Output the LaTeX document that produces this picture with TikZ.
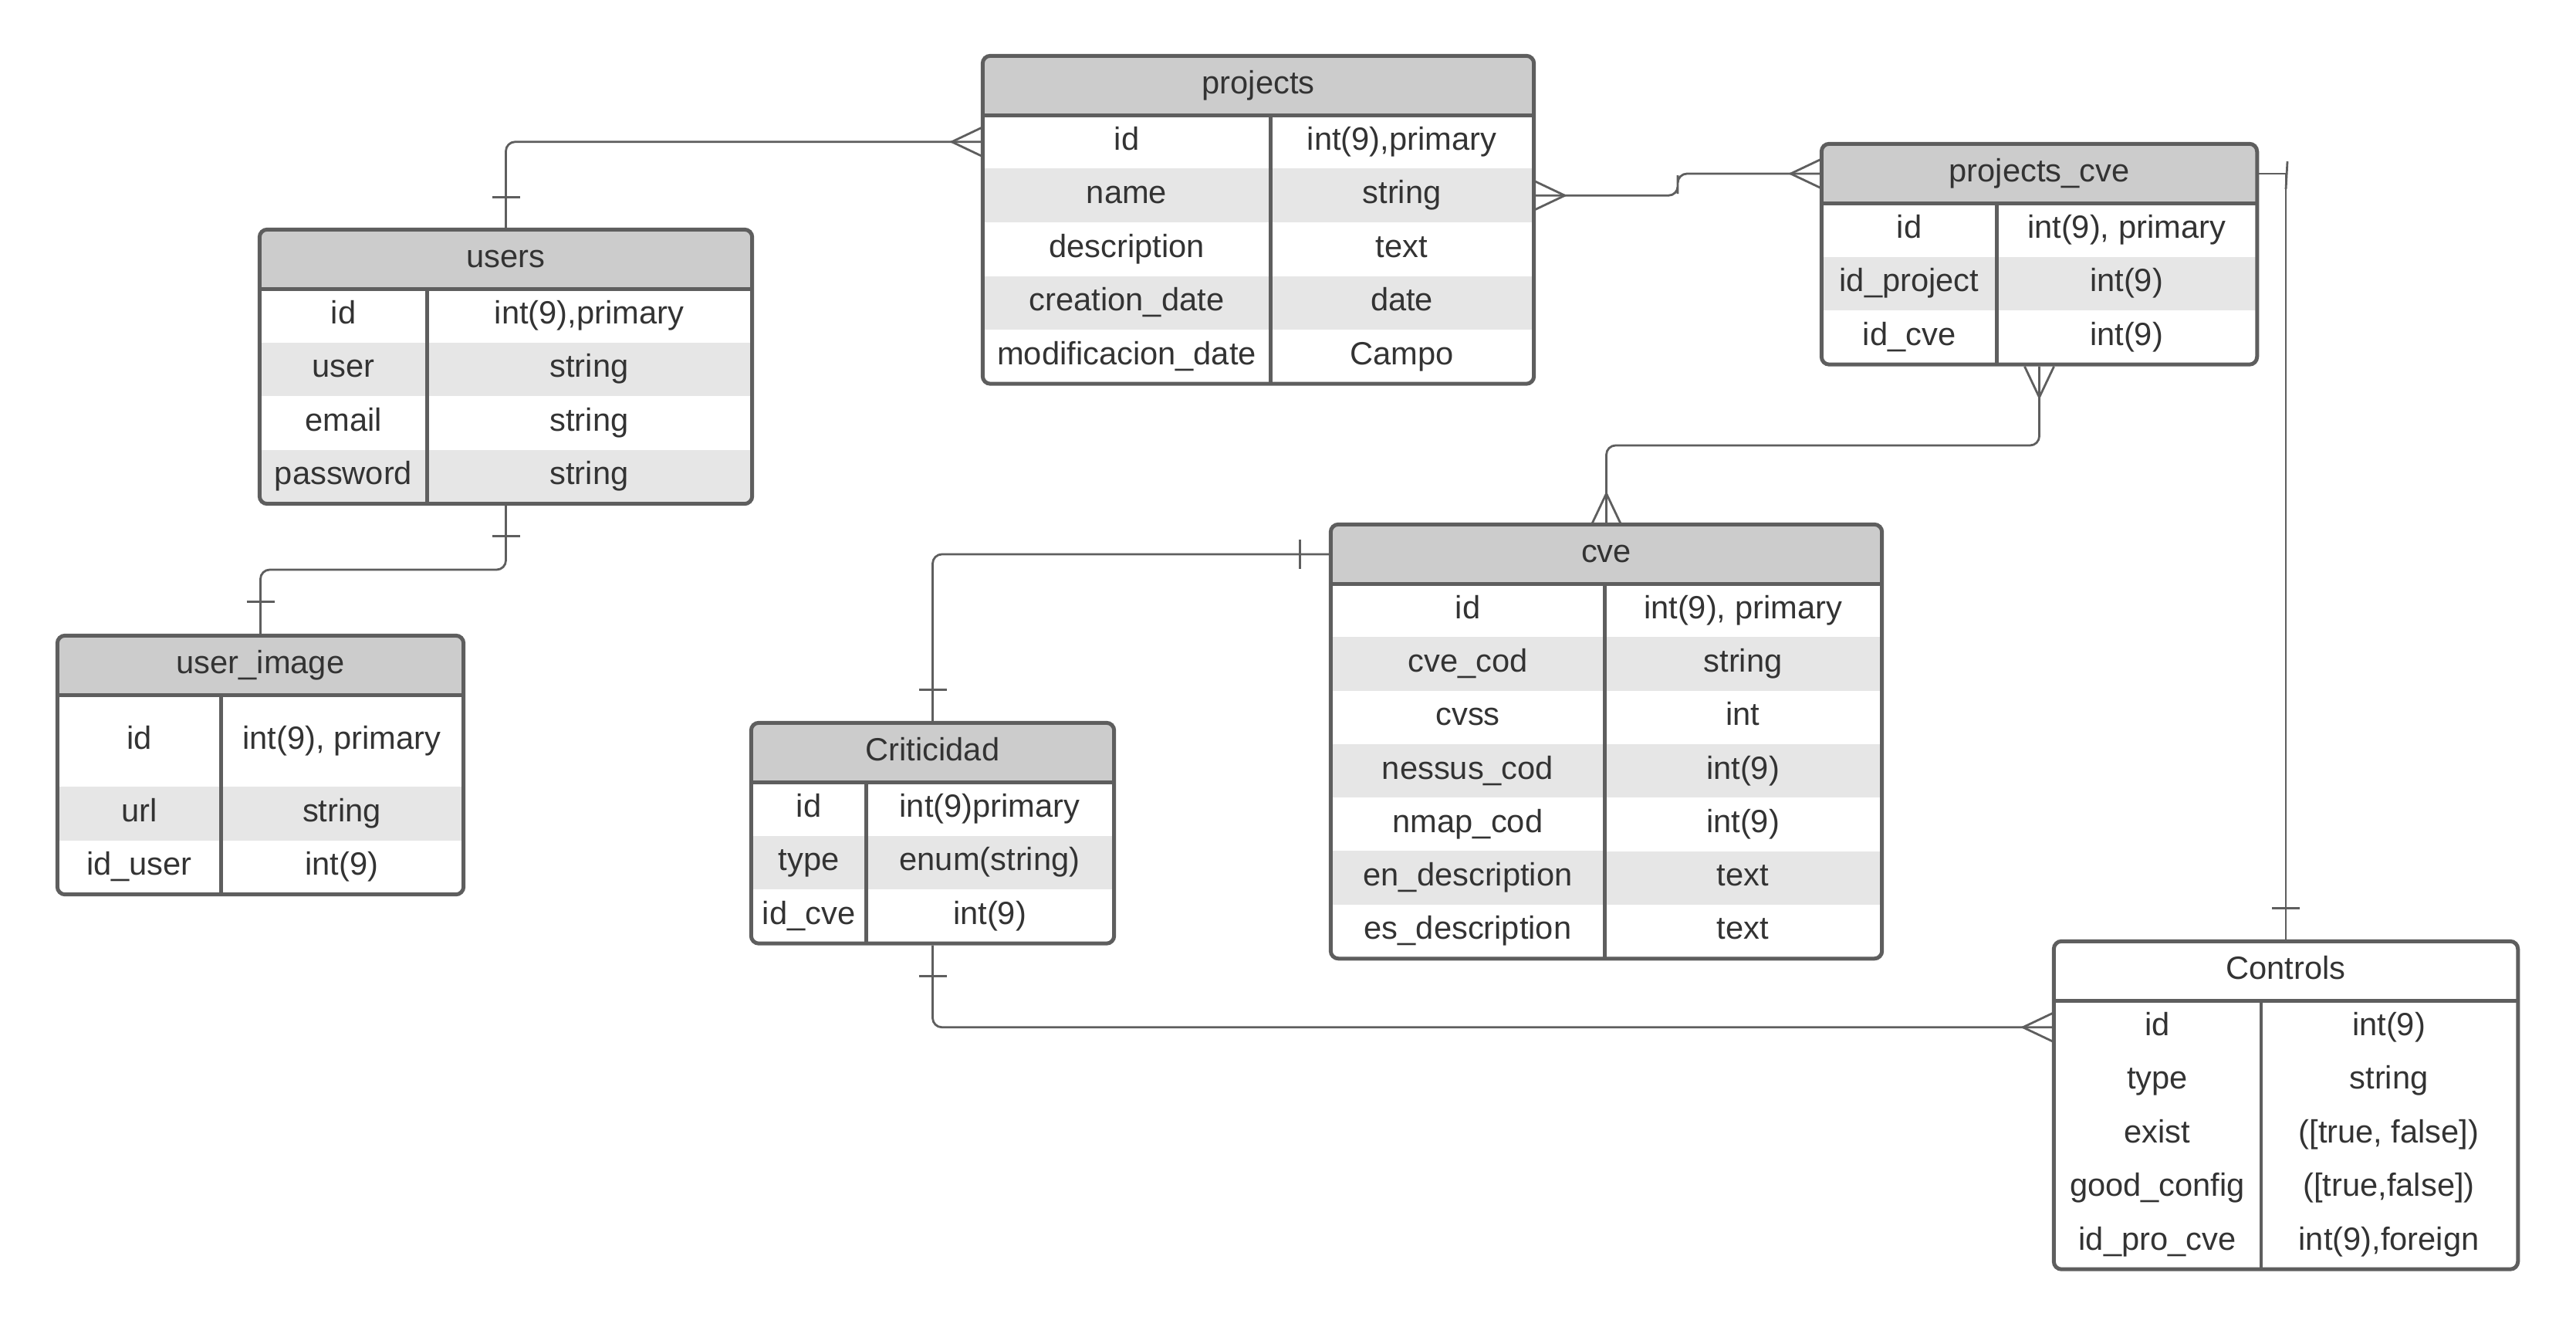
\documentclass[tikz,border=0pt]{standalone}
\usepackage{fontspec}
\setmainfont{Liberation Sans}
\usepackage{tikz}
\usetikzlibrary{calc,fit,positioning}

\definecolor{rahmen}{HTML}{5E5E5E}
\definecolor{kopfgrau}{HTML}{CCCCCC}
\definecolor{streifen}{HTML}{E6E6E6}
\definecolor{schrift}{HTML}{333333}

\tikzset{
    kopf/.style={rectangle, fill=kopfgrau, inner sep=0, minimum height=0.76cm, text height=0.3cm, text depth=0.09cm, text=schrift},
    zelle/.style={rectangle, inner sep=0, minimum height=0.695cm, text height=0.3cm, text depth=0.09cm, text=schrift},
    tabelle/.style={rectangle, draw=rahmen, line width=0.05cm, rounded corners=0.1cm, inner sep=0},
    trenn/.style={draw=rahmen, line width=0.045cm},
    linie/.style={draw=rahmen, line width=0.028cm},
    knick/.style={linie, rounded corners=0.12cm}
}

\begin{document}
\begin{tikzpicture}[font=\fontsize{11.85pt}{14pt}\selectfont]
        \useasboundingbox (0,0) rectangle (33.38,-17.18);
        % Tabelle - projects
        \node[kopf, minimum width=7.13cm] (p-h) at (16.305,-1.11) {projects};
        \foreach \i/\f/\a/\b in {1/white/id/{int(9),primary},2/streifen/name/string,3/white/description/text,4/streifen/creation\_date/date,5/white/modificacion\_date/Campo}{
            \node[zelle, fill=\f, minimum width=3.72cm] (p-a\i) at (14.6,{-1.49-0.695*\i+0.3475}) {\a};
            \node[zelle, fill=\f, minimum width=3.41cm] (p-b\i) at (18.165,{-1.49-0.695*\i+0.3475}) {\b};
        }
        \node[tabelle, fit=(p-h)(p-b5)] (projects) {};
        \draw[trenn] (p-h.south west) -- (p-h.south east);
        \draw[trenn] (p-a1.north east) -- (p-a5.south east);
        % Tabelle - users
        \node[kopf, minimum width=6.37cm] (u-h) at (6.555,-3.36) {users};
        \foreach \i/\f/\a/\b in {1/white/id/{int(9),primary},2/streifen/user/string,3/white/email/string,4/streifen/password/string}{
            \node[zelle, fill=\f, minimum width=2.16cm] (u-a\i) at (4.45,{-3.74-0.695*\i+0.3475}) {\a};
            \node[zelle, fill=\f, minimum width=4.21cm] (u-b\i) at (7.635,{-3.74-0.695*\i+0.3475}) {\b};
        }
        \node[tabelle, fit=(u-h)(u-b4)] (users) {};
        \draw[trenn] (u-h.south west) -- (u-h.south east);
        \draw[trenn] (u-a1.north east) -- (u-a4.south east);
        % Tabelle - projects_cve
        \node[kopf, minimum width=5.63cm] (pc-h) at (26.425,-2.25) {projects\_cve};
        \foreach \i/\f/\a/\b in {1/white/id/{int(9), primary},2/streifen/id\_project/int(9),3/white/id\_cve/int(9)}{
            \node[zelle, fill=\f, minimum width=2.26cm] (pc-a\i) at (24.74,{-2.63-0.695*\i+0.3475}) {\a};
            \node[zelle, fill=\f, minimum width=3.37cm] (pc-b\i) at (27.555,{-2.63-0.695*\i+0.3475}) {\b};
        }
        \node[tabelle, fit=(pc-h)(pc-b3)] (pcve) {};
        \draw[trenn] (pc-h.south west) -- (pc-h.south east);
        \draw[trenn] (pc-a1.north east) -- (pc-a3.south east);
        % Tabelle - user_image
        \node[kopf, minimum width=5.25cm] (ui-h) at (3.375,-8.62) {user\_image};
        \node[zelle, minimum width=2.11cm, minimum height=1.19cm] (ui-a1) at (1.805,-9.595) {id};
        \node[zelle, minimum width=3.14cm, minimum height=1.19cm] (ui-b1) at (4.43,-9.595) {int(9), primary};
        \node[zelle, fill=streifen, minimum width=2.11cm] (ui-a2) at (1.805,-10.5375) {url};
        \node[zelle, fill=streifen, minimum width=3.14cm] (ui-b2) at (4.43,-10.5375) {string};
        \node[zelle, minimum width=2.11cm] (ui-a3) at (1.805,-11.2325) {id\_user};
        \node[zelle, minimum width=3.14cm] (ui-b3) at (4.43,-11.2325) {int(9)};
        \node[tabelle, fit=(ui-h)(ui-b3)] (ui) {};
        \draw[trenn] (ui-h.south west) -- (ui-h.south east);
        \draw[trenn] (ui-a1.north east) -- (ui-a3.south east);
        % Tabelle - Criticidad
        \node[kopf, minimum width=4.69cm] (cr-h) at (12.085,-9.75) {Criticidad};
        \foreach \i/\f/\a/\b in {1/white/id/int(9)primary,2/streifen/type/enum(string),3/white/id\_cve/int(9)}{
            \node[zelle, fill=\f, minimum width=1.48cm] (cr-a\i) at (10.48,{-10.13-0.695*\i+0.3475}) {\a};
            \node[zelle, fill=\f, minimum width=3.21cm] (cr-b\i) at (12.825,{-10.13-0.695*\i+0.3475}) {\b};
        }
        \node[tabelle, fit=(cr-h)(cr-b3)] (cr) {};
        \draw[trenn] (cr-h.south west) -- (cr-h.south east);
        \draw[trenn] (cr-a1.north east) -- (cr-a3.south east);
        % Tabelle - cve
        \node[kopf, minimum width=7.13cm] (c-h) at (20.815,-7.18) {cve};
        \foreach \i/\f/\a/\b in {1/white/id/{int(9), primary},2/streifen/cve\_cod/string,3/white/cvss/int,4/streifen/nessus\_cod/int(9),5/white/nmap\_cod/int(9),6/streifen/en\_description/text,7/white/es\_description/text}{
            \node[zelle, fill=\f, minimum width=3.54cm] (c-a\i) at (19.02,{-7.56-0.693*\i+0.3465}) {\a};
            \node[zelle, fill=\f, minimum width=3.59cm, minimum height=0.693cm] (c-b\i) at (22.585,{-7.56-0.693*\i+0.3465}) {\b};
        }
        \node[tabelle, fit=(c-h)(c-b7)] (cve) {};
        \draw[trenn] (c-h.south west) -- (c-h.south east);
        \draw[trenn] (c-a1.north east) -- (c-a7.south east);
        % Tabelle - Controls
        \node[kopf, fill=white, minimum width=6cm] (ct-h) at (29.62,-12.58) {Controls};
        \foreach \i/\a/\b in {1/id/int(9),2/type/string,3/exist/{([true, false])},4/good\_config/{([true,false])},5/id\_pro\_cve/{int(9),foreign}}{
            \node[zelle, minimum width=2.67cm] (ct-a\i) at (27.955,{-12.96-0.695*\i+0.3475}) {\a};
            \node[zelle, minimum width=3.33cm] (ct-b\i) at (30.955,{-12.96-0.695*\i+0.3475}) {\b};
        }
        \node[tabelle, fit=(ct-h)(ct-b5)] (ct) {};
        \draw[trenn] (ct-h.south west) -- (ct-h.south east);
        \draw[trenn] (ct-a1.north east) -- (ct-a5.south east);
        % Verbindung users - projects
        \draw[knick] (users.north) |- (p-a1.west);
        \draw[linie] ($(users.north)+(-0.18,0.39)$) -- ++(0.36,0);
        \draw[linie] ($(p-a1.west)+(0,0.19)$) -- ++(-0.4,-0.19) -- ++(0.4,-0.19);
        % Verbindung projects - projects_cve
        \draw[knick] (p-b2.east) -| ($(p-b2.east)!0.5!(pc-h.west)$) |- (pc-h.west);
        \draw[linie] ($(p-b2.east)+(0,0.19)$) -- ++(0.4,-0.19) -- ++(-0.4,-0.19);
        \draw[linie] ($(pc-h.west)+(0,0.19)$) -- ++(-0.4,-0.19) -- ++(0.4,-0.19);
        % Verbindung projects_cve - cve
        \draw[knick] (pcve.south) |- ($(pcve.south)!0.5!(c-h.north)$) -| (c-h.north);
        \draw[linie] ($(pcve.south)+(-0.19,0)$) -- ++(0.19,-0.4) -- ++(0.19,0.4);
        \draw[linie] ($(c-h.north)+(-0.19,0)$) -- ++(0.19,0.4) -- ++(0.19,-0.4);
        % Verbindung users - user_image
        \draw[knick] (users.south) |- ($(users.south)!0.5!(ui.north)$) -| (ui.north);
        \draw[linie] ($(users.south)+(-0.18,-0.39)$) -- ++(0.36,0);
        \draw[linie] ($(ui.north)+(-0.18,0.41)$) -- ++(0.36,0);
        % Verbindung cve - Criticidad
        \draw[knick] (c-h.west) -| (cr.north);
        \draw[linie] ($(c-h.west)+(-0.4,0.19)$) -- ++(0,-0.38);
        \draw[linie] ($(cr.north)+(-0.18,0.4)$) -- ++(0.36,0);
        % Verbindung Criticidad - Controls
        \draw[knick] (cr.south) |- (ct-a1.west);
        \draw[linie] ($(cr.south)+(-0.18,-0.4)$) -- ++(0.36,0);
        \draw[linie] ($(ct-a1.west)+(0,0.19)$) -- ++(-0.4,-0.19) -- ++(0.4,-0.19);
        % Verbindung projects_cve - Controls
        \draw[linie] (pc-h.east) -| (ct.north);
        \draw[linie] ($(pc-h.east -| ct.north)+(0.02,0.16)$) -- ++(-0.02,-0.36);
        \draw[linie] ($(ct.north)+(-0.18,0.4)$) -- ++(0.36,0);
    \end{tikzpicture}
\end{document}
